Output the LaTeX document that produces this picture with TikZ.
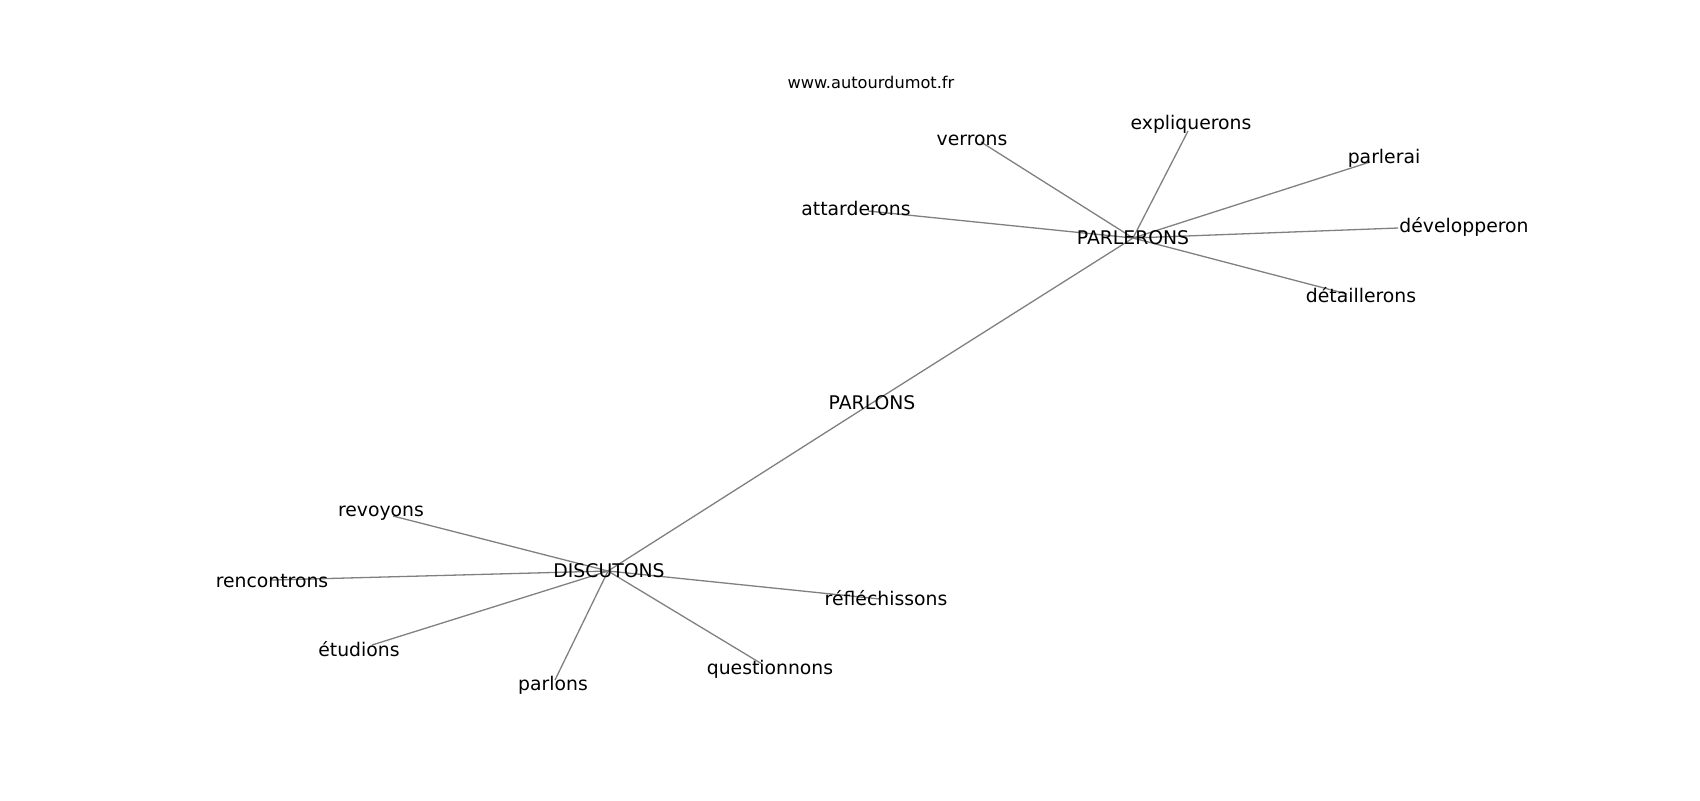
\documentclass[tikz,border=0pt]{standalone}
\usepackage{fontspec}
\setmainfont{DejaVu Sans}
\usepackage{tikz}

\begin{document}
\begin{tikzpicture}[
        x=0.5pt, y=-0.5pt,
        word/.style={anchor=base, inner sep=0pt, font=\fontsize{9.4}{11}\selectfont},
        site/.style={anchor=base, inner sep=0pt, font=\fontsize{8.1}{10}\selectfont},
        link/.style={draw=gray, line width=0.65pt}
        ]
        \useasboundingbox (0,0) rectangle (1700,800);

        % points of the graph
        \coordinate (p-parlons) at (872,403);
        \coordinate (p-parlerons) at (1133,238);
        \coordinate (p-discutons) at (608,571);
        \coordinate (p-verrons) at (981,142);
        \coordinate (p-expliquerons) at (1188,131);
        \coordinate (p-parlerai) at (1370,162);
        \coordinate (p-attarderons) at (868,211);
        \coordinate (p-developperon) at (1398,228);
        \coordinate (p-detaillerons) at (1347,294);
        \coordinate (p-revoyons) at (393,516);
        \coordinate (p-rencontrons) at (272,580);
        \coordinate (p-etudions) at (372,645);
        \coordinate (p-parlons2) at (555,680);
        \coordinate (p-questionnons) at (762,664);
        \coordinate (p-reflechissons) at (880,599);

        \path[link]
              (p-parlerons) edge (p-verrons)
              (p-parlerons) edge (p-expliquerons)
              (p-parlerons) edge (p-parlerai)
              (p-parlerons) edge (p-attarderons)
              (p-parlerons) edge (p-developperon)
              (p-parlerons) edge (p-detaillerons)
              (p-parlerons) edge (p-parlons)

              (p-parlons) edge (p-discutons)

              (p-discutons) edge (p-revoyons)
              (p-discutons) edge (p-rencontrons)
              (p-discutons) edge (p-etudions)
              (p-discutons) edge (p-parlons2)
              (p-discutons) edge (p-questionnons)
              (p-discutons) edge (p-reflechissons);

        % labels
        \node[site] (site) at (871,88) {www.autourdumot.fr};
        \node[word] (parlons) at (872,409) {PARLONS};
        \node[word] (parlerons) at (1133,244) {PARLERONS};
        \node[word] (discutons) at (609,577) {DISCUTONS};
        \node[word] (verrons) at (972,145) {verrons};
        \node[word] (expliquerons) at (1191,129) {expliquerons};
        \node[word] (parlerai) at (1384,163) {parlerai};
        \node[word] (attarderons) at (856,215) {attarderons};
        \node[word] (developperon) at (1464,232) {développeron};
        \node[word] (detaillerons) at (1361,302) {détaillerons};
        \node[word] (revoyons) at (381,516) {revoyons};
        \node[word] (rencontrons) at (272,587) {rencontrons};
        \node[word] (etudions) at (359,656) {étudions};
        \node[word] (parlons2) at (553,690) {parlons};
        \node[word] (questionnons) at (770,674) {questionnons};
        \node[word] (reflechissons) at (886,605) {réfléchissons};
\end{tikzpicture}
\end{document}
